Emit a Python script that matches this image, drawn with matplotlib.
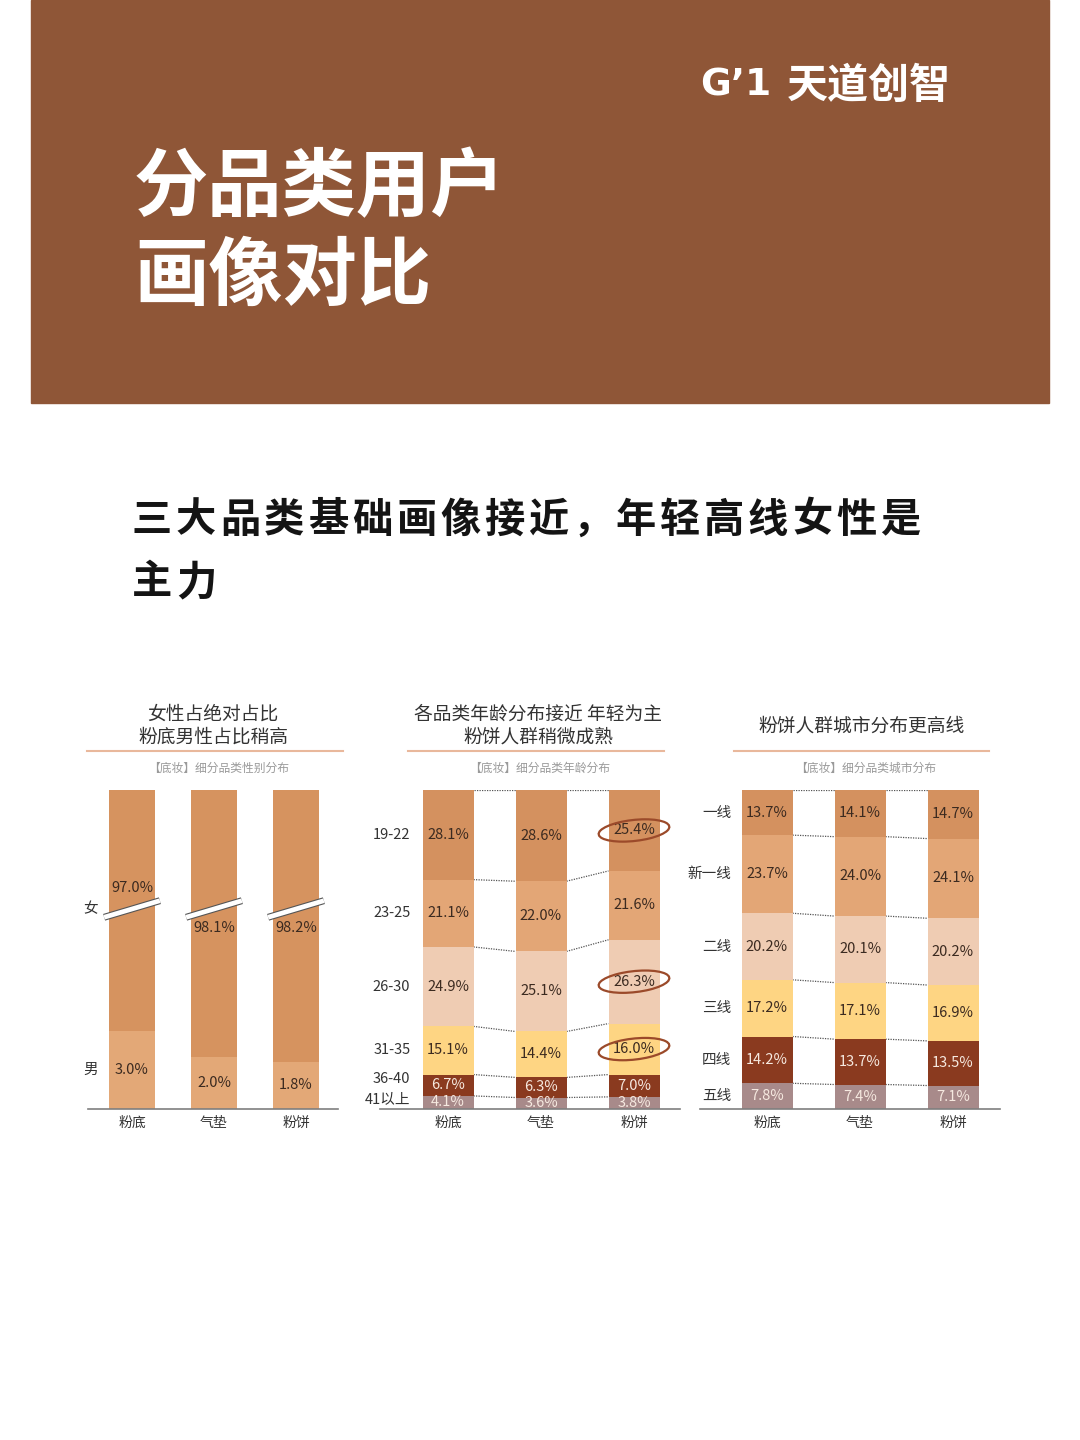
import numpy as np
import matplotlib
matplotlib.use("Agg")
import matplotlib.pyplot as plt
from matplotlib.patches import Rectangle, Ellipse

plt.rcParams['font.family'] = ['Noto Sans CJK SC', 'DejaVu Sans']

# ---------------------------------------------------------------------------
# 数据
# ---------------------------------------------------------------------------
categories = ["粉底", "气垫", "粉饼"]

gender_female = [97.0, 98.1, 98.2]
gender_male = [3.0, 2.0, 1.8]

age_groups = ["19-22", "23-25", "26-30", "31-35", "36-40", "41以上"]
age_values = [
    [28.1, 21.1, 24.9, 15.1, 6.7, 4.1],   # 粉底
    [28.6, 22.0, 25.1, 14.4, 6.3, 3.6],   # 气垫
    [25.4, 21.6, 26.3, 16.0, 7.0, 3.8],   # 粉饼
]
age_highlight = [(2, 0), (2, 2), (2, 3)]

city_tiers = ["一线", "新一线", "二线", "三线", "四线", "五线"]
city_values = [
    [13.7, 23.7, 20.2, 17.2, 14.2, 7.8],
    [14.1, 24.0, 20.1, 17.1, 13.7, 7.4],
    [14.7, 24.1, 20.2, 16.9, 13.5, 7.1],
]

# ---------------------------------------------------------------------------
# 样式
# ---------------------------------------------------------------------------
W, H = 1080, 1440
BROWN = "#8F5637"
SEG_COLORS = ["#D4915F", "#E3A676", "#EFCCB3", "#FED583", "#8A3A1F", "#A88A8A"]
LABEL_DARK = "#3B2A20"
LABEL_LIGHT = "#F6E9E0"
LIGHT_SEGS = {4, 5}
TXT = "#333333"

fig = plt.figure(figsize=(W / 100, H / 100), dpi=100)
fig.patch.set_facecolor("white")


def fx(px):
    return px / W


def fy(py):
    return 1 - py / H


# 顶部色块
fig.patches.append(Rectangle((fx(31), fy(403)), fx(1049 - 31), 403 / H,
                             transform=fig.transFigure, color=BROWN, zorder=0))
fig.text(fx(134), fy(188), "分品类用户", color="white", fontsize=53.5,
         fontweight="bold", va="center", ha="left")
fig.text(fx(134), fy(277), "画像对比", color="white", fontsize=53.5,
         fontweight="bold", va="center", ha="left")
fig.text(fx(700), fy(85), "G’1", color="white", fontsize=27,
         fontweight="bold", va="center", ha="left", family=["DejaVu Sans"])
fig.text(fx(787), fy(86), "天道创智", color="white", fontsize=29.5,
         fontweight="bold", va="center", ha="left")

# 小标题（逐字排布，字距较宽）
line1 = "三大品类基础画像接近，年轻高线女性是"
for k, ch in enumerate(line1):
    fig.text(fx(132 + 44 * k), fy(520), ch, color="#141414", fontsize=29,
             fontweight="bold", va="center", ha="left")
for k, ch in enumerate("主力"):
    fig.text(fx(132 + 44 * k), fy(583), ch, color="#141414", fontsize=29,
             fontweight="bold", va="center", ha="left")


def panel(left, right, center0, spacing, title_lines, title_cx, line_x0, line_x1, sub):
    ax = fig.add_axes([fx(left), fy(1109), fx(right - left), 319 / H])
    ax.set_xlim((left - center0) / spacing, (right - center0) / spacing)
    ax.set_ylim(0, 100)
    for s in ["top", "left", "right"]:
        ax.spines[s].set_visible(False)
    ax.spines["bottom"].set_color("#7f7f7f")
    ax.spines["bottom"].set_linewidth(1.2)
    ax.set_facecolor("none")
    ax.tick_params(length=0, labelsize=10, labelcolor=TXT, pad=5)
    ax.set_xticks(range(3))
    ax.set_xticklabels(categories)
    ax.set_yticks([])

    if len(title_lines) == 2:
        fig.text(fx(title_cx), fy(714), title_lines[0], ha="center", va="center",
                 fontsize=13.5, color=TXT)
        fig.text(fx(title_cx), fy(737), title_lines[1], ha="center", va="center",
                 fontsize=13.5, color=TXT)
    else:
        fig.text(fx(title_cx), fy(726), title_lines[0], ha="center", va="center",
                 fontsize=13.5, color=TXT)
    fig.add_artist(plt.Line2D([fx(line_x0), fx(line_x1)], [fy(751), fy(751)],
                              transform=fig.transFigure, color="#E9B89C", lw=1.5))
    fig.text(fx((line_x0 + line_x1) / 2 + 4), fy(768), sub, ha="center", va="center",
             fontsize=8.5, color="#9a9a9a")
    return ax


def row_labels(ax, ys, labels, x_right):
    for y, lab in zip(ys, labels):
        ax.text(x_right, y, lab, ha="right", va="center", fontsize=10.5,
                color=TXT, clip_on=False)


def stacked(ax, values, width, highlight=()):
    x = np.arange(len(values))
    norm = np.array([np.array(v) / sum(v) * 100 for v in values])
    tops = 100 - np.cumsum(norm, axis=1) + norm  # 自上而下堆叠
    for j in range(norm.shape[1]):
        bottoms = tops[:, j] - norm[:, j]
        ax.bar(x, norm[:, j], width, bottom=bottoms, color=SEG_COLORS[j], zorder=2)
        for i in range(len(x)):
            c = LABEL_LIGHT if j in LIGHT_SEGS else LABEL_DARK
            ax.text(x[i], bottoms[i] + norm[i, j] / 2, f"{values[i][j]:.1f}%",
                    ha="center", va="center", fontsize=10.5, color=c, zorder=4)
    # 虚线连接
    for i in range(len(x) - 1):
        for j in range(norm.shape[1]):
            ax.plot([x[i] + width / 2, x[i + 1] - width / 2],
                    [tops[i, j], tops[i + 1, j]], ls=(0, (1, 1)),
                    color="#555555", lw=0.9, zorder=1)
    for i, j in highlight:
        yc = tops[i, j] - norm[i, j] / 2
        ax.add_patch(Ellipse((x[i], yc), 0.72, 7.0, angle=-2, fill=False,
                             ec="#9B4A2A", lw=1.6, zorder=5, clip_on=False))
    return tops[0] - norm[0] / 2


# 面板一：性别
ax1 = panel(88, 338, 132, 82, ["女性占绝对占比", "粉底男性占比稍高"], 213, 87, 343,
            "【底妆】细分品类性别分布")
x1 = np.arange(3)
w1 = 46 / 82
male_scale = 8.2  # 截断坐标，男性部分放大显示
male_h = np.array(gender_male) * male_scale
ax1.bar(x1, male_h, w1, color="#E3A877", zorder=2)
ax1.bar(x1, 100 - male_h, w1, bottom=male_h, color="#D6935F", zorder=2)
brk = 62.7
for i in range(3):
    ax1.text(x1[i], male_h[i] / 2, f"{gender_male[i]:.1f}%", ha="center",
             va="center", fontsize=10.5, color=LABEL_DARK, zorder=4)
    fy_lab = brk + 6.5 if i == 0 else brk - 6.0
    ax1.text(x1[i], fy_lab, f"{gender_female[i]:.1f}%", ha="center", va="center",
             fontsize=10.5, color=LABEL_DARK, zorder=4)
    bx = [x1[i] - 0.34, x1[i] + 0.34]
    by = [brk - 2.6, brk + 2.6]
    ax1.plot(bx, by, color="#555555", lw=5, zorder=5, clip_on=False,
             solid_capstyle="butt")
    ax1.plot(bx, by, color="white", lw=3.4, zorder=6, clip_on=False,
             solid_capstyle="butt")
row_labels(ax1, [brk, male_h[0] / 2], ["女", "男"], -w1 / 2 - 0.14)

# 面板二：年龄
ax2 = panel(380, 680, 448, 93, ["各品类年龄分布接近 年轻为主", "粉饼人群稍微成熟"], 538, 408, 664,
            "【底妆】细分品类年龄分布")
w2 = 51 / 93
c2 = stacked(ax2, age_values, w2, age_highlight)
c2[4] += 2.0
c2[5] += 1.0
row_labels(ax2, c2, age_groups, -w2 / 2 - 0.13)

# 面板三：城市
ax3 = panel(700, 1000, 767, 93, ["粉饼人群城市分布更高线"], 862, 734, 989,
            "【底妆】细分品类城市分布")
c3 = stacked(ax3, city_values, w2)
row_labels(ax3, c3, city_tiers, -w2 / 2 - 0.11)

fig.savefig("out.png", dpi=100, facecolor="white")
